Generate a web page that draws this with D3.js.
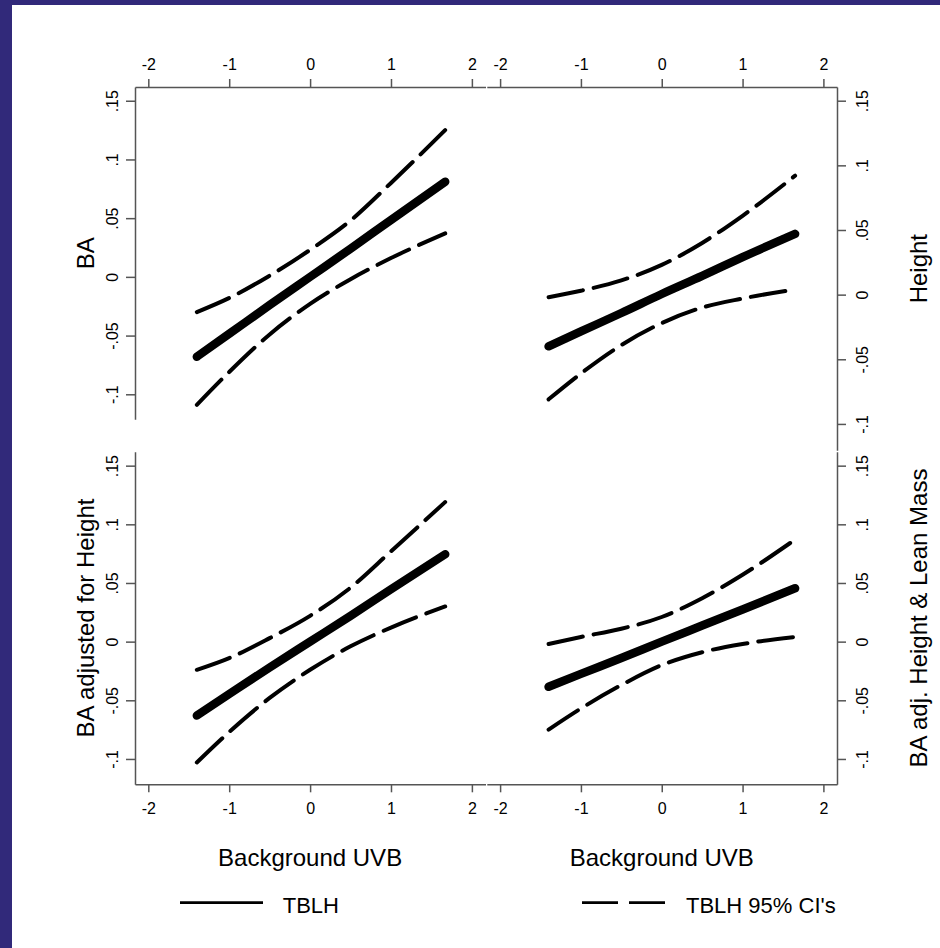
<!DOCTYPE html>
<html lang="en">
<head>
<meta charset="UTF-8">
<title>TBLH vs Background UVB</title>
<script src="https://d3js.org/d3.v7.min.js"></script>
<style>
  body { margin: 0; background: #fff; }
  svg text { font-family: Arial, "Liberation Sans", sans-serif; fill: #000; }
  .axis path, .axis line { stroke: #555; stroke-width: 1.5; }
  .title { font-size: 24px; }
  .legend text { font-size: 22px; }
</style>
</head>
<body>
<svg width="940" height="948"></svg>
<script>
// tick values and labels
const xTicks = [-2, -1, 0, 1, 2];
const yTicks = [-0.1, -0.05, 0, 0.05, 0.1, 0.15];
const yTickLabels = ["-.1", "-.05", "0", ".05", ".1", ".15"];
const xTitle = "Background UVB";
const yTitles = ["BA", "Height", "BA adjusted for Height", "BA adj. Height & Lean Mass"];
const legendLabels = ["TBLH", "TBLH 95% CI's"];

// background UVB values where the curves were read
const uvbLeft = [-1.4, -1, -0.5, 0, 0.5, 1, 1.67];
const uvbRight = [-1.4, -1, -0.5, 0, 0.5, 1, 1.65];

// BA
const baFit = [-0.068, -0.0485, -0.024, 0, 0.024, 0.0485, 0.081];
const baUpper = [-0.030, -0.018, 0.001, 0.023, 0.048, 0.080, 0.125];
const baLower = [-0.109, -0.081, -0.049, -0.023, -0.002, 0.016, 0.037];

// Height
const heightFit = [-0.040, -0.0285, -0.0142, 0.0005, 0.0145, 0.029, 0.047];
const heightUpper = [-0.002, 0.003, 0.011, 0.023, 0.040, 0.061, 0.092];
const heightLower = [-0.081, -0.061, -0.039, -0.022, -0.010, -0.003, 0.004];

// BA adjusted for height
const baAdjFit = [-0.063, -0.0447, -0.022, 0, 0.022, 0.0447, 0.0745];
const baAdjUpper = [-0.024, -0.014, 0.003, 0.022, 0.046, 0.077, 0.119];
const baAdjLower = [-0.103, -0.077, -0.048, -0.024, -0.004, 0.012, 0.030];

// BA adjusted for height & lean mass
const leanFit = [-0.0385, -0.0275, -0.014, 0, 0.0137, 0.0274, 0.0455];
const leanUpper = [-0.002, 0.004, 0.011, 0.021, 0.037, 0.057, 0.087];
const leanLower = [-0.075, -0.057, -0.037, -0.020, -0.009, -0.002, 0.004];

const svg = d3.select("svg");

// purple frame on the top and left edges
svg.append("rect").attr("width", 940).attr("height", 948).attr("fill", "#31297a");
svg.append("rect").attr("x", 12).attr("y", 5).attr("width", 928).attr("height", 943).attr("fill", "#fff");

const panels = [
  { x: uvbLeft, fit: baFit, up: baUpper, lo: baLower, title: yTitles[0],
    left: 135, right: 485.5, top: 87, bottom: 419.3, yDom: [-0.1213, 0.1617], xSide: "top", ySide: "left" },
  { x: uvbRight, fit: heightFit, up: heightUpper, lo: heightLower, title: yTitles[1],
    left: 486.8, right: 837, top: 87, bottom: 450.3, yDom: [-0.1204, 0.1606], xSide: "top", ySide: "right" },
  { x: uvbLeft, fit: baAdjFit, up: baAdjUpper, lo: baAdjLower, title: yTitles[2],
    left: 135, right: 485.5, top: 451.7, bottom: 784.3, yDom: [-0.1216, 0.1619], xSide: "bottom", ySide: "left" },
  { x: uvbRight, fit: leanFit, up: leanUpper, lo: leanLower, title: yTitles[3],
    left: 486.8, right: 837, top: 451.7, bottom: 784.3, yDom: [-0.1216, 0.1619], xSide: "bottom", ySide: "right" }
];

panels.forEach(p => {
  const x = d3.scaleLinear().domain([-2.1645, 2.1683]).range([p.left, p.right]);
  const y = d3.scaleLinear().domain(p.yDom).range([p.bottom, p.top]);

  // x axis
  const xAxis = (p.xSide === "top" ? d3.axisTop(x) : d3.axisBottom(x))
    .tickValues(xTicks).tickSize(8).tickSizeOuter(0)
    .tickPadding(p.xSide === "top" ? 9 : 10)
    .tickFormat(d => d < 0 ? "-" + Math.abs(d) : String(d));
  const gx = svg.append("g").attr("class", "axis")
    .attr("transform", `translate(0,${p.xSide === "top" ? p.top : p.bottom})`)
    .call(xAxis);
  gx.attr("font-size", 16).attr("font-family", null);

  // y axis, labels turned to read upward
  const yAxis = (p.ySide === "left" ? d3.axisLeft(y) : d3.axisRight(y))
    .tickValues(yTicks).tickSize(9).tickSizeOuter(0)
    .tickFormat((d, i) => yTickLabels[i]);
  const gy = svg.append("g").attr("class", "axis")
    .attr("transform", `translate(${p.ySide === "left" ? p.left : p.right},0)`)
    .call(yAxis);
  gy.attr("font-size", 16).attr("font-family", null);
  gy.selectAll("text")
    .attr("x", null).attr("dy", null)
    .attr("text-anchor", "middle")
    .attr("transform", `translate(${p.ySide === "left" ? -17.5 : 31},0) rotate(-90)`);

  const pts = arr => arr.map((v, i) => [p.x[i], v]);
  const line = d3.line().x(d => x(d[0])).y(d => y(d[1])).curve(d3.curveMonotoneX);

  [p.up, p.lo].forEach(arr => {
    svg.append("path").attr("d", line(pts(arr)))
      .attr("fill", "none").attr("stroke", "#000").attr("stroke-width", 4)
      .attr("stroke-linecap", "round").attr("stroke-dasharray", "35,11");
  });
  svg.append("path").attr("d", line(pts(p.fit)))
    .attr("fill", "none").attr("stroke", "#000").attr("stroke-width", 8.5)
    .attr("stroke-linecap", "round");

  // y title
  const ty = (p.top + p.bottom) / 2;
  const tx = p.ySide === "left" ? 94 : 927;
  svg.append("text").attr("class", "title")
    .attr("text-anchor", "middle")
    .attr("transform", `translate(${tx},${ty}) rotate(-90)`)
    .text(p.title);

  if (p.xSide === "bottom") {
    svg.append("text").attr("class", "title")
      .attr("text-anchor", "middle")
      .attr("x", x(0)).attr("y", 866)
      .text(xTitle);
  }
});

// legend
const lg = svg.append("g").attr("class", "legend");
lg.append("line").attr("x1", 180).attr("x2", 263).attr("y1", 902.7).attr("y2", 902.7)
  .attr("stroke", "#000").attr("stroke-width", 2.7);
lg.append("text").attr("x", 282.7).attr("y", 912.7).text(legendLabels[0]);
lg.append("line").attr("x1", 582).attr("x2", 665).attr("y1", 902.7).attr("y2", 902.7)
  .attr("stroke", "#000").attr("stroke-width", 2.7).attr("stroke-dasharray", "36,11");
lg.append("text").attr("x", 686).attr("y", 912.7).text(legendLabels[1]);
</script>
</body>
</html>
